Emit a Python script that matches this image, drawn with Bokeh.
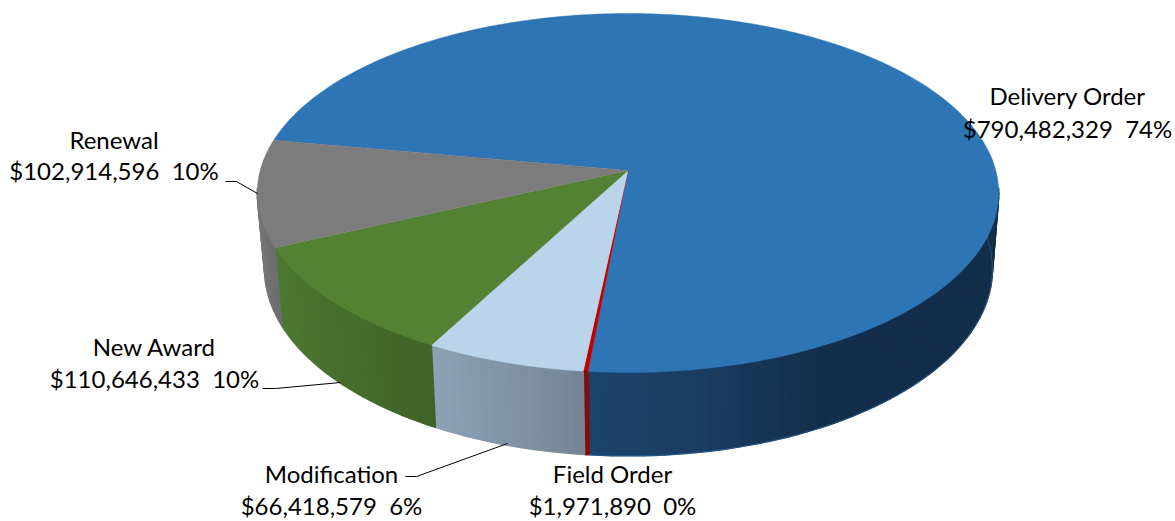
import numpy as np
from bokeh.plotting import figure
from bokeh.models import ColumnDataSource, Range1d
from bokeh.core.properties import value
from bokeh.embed import file_html
from bokeh.resources import INLINE

# ---------- data (clockwise from the Delivery Order edge) ----------
categories = ["Delivery Order", "Field Order", "Modification", "New Award", "Renewal"]
amounts = [790482329, 1971890, 66418579, 110646433, 102914596]

# ---------- style ----------
top_colors = ["#2e75b6", "#c00000", "#bad4eb", "#548235", "#7c7c7c"]
wall_stops = [
    [(585, "#1a446c"), (700, "#1b3d61"), (820, "#132e4a"), (1000, "#132e4a")],
    [(580, "#860c0c"), (590, "#860c0c")],
    [(436, "#8da1b5"), (585, "#748495")],
    [(275, "#4c7831"), (340, "#466e2b"), (436, "#3f6327")],
    [(255, "#777777"), (285, "#666666")],
]
label_centers = [(1067, 95, 128), (612, 473, 505), (331, 473, 505), (154, 346, 378), (113.5, 139, 170)]
leaders = [
    [],
    [],
    ([405, 416, 507], [476, 476, 443]),
    ([262, 275, 340], [388, 388, 382]),
    ([225, 236, 257], [181, 181, 193]),
]

START = np.deg2rad(-79.9)
K = 0.1253
TOP = (627.5, 170.0, 367.8, 176.7)      # cx, cy, rx, ry
BOT = (628.0, 245.0, 361.0, 184.0)


def project(theta, plane):
    cx, cy, rx, ry = plane
    u, v = np.sin(theta), -np.cos(theta)
    d = 1 - K * v
    return cx + rx * u / d, cy + ry * v / d


def hex_rgb(h):
    return np.array([int(h[i:i + 2], 16) for i in (1, 3, 5)], float)


def shade(x, stops):
    xs = [s[0] for s in stops]
    rgb = np.array([hex_rgb(s[1]) for s in stops])
    c = [np.interp(x, xs, rgb[:, i]) for i in range(3)]
    return "#%02x%02x%02x" % tuple(int(round(a)) for a in c)


total = sum(amounts)
fractions = np.array(amounts) / total
edges = START + 2 * np.pi * np.concatenate([[0], np.cumsum(fractions)])

p = figure(width=1175, height=521, x_range=Range1d(0, 1175), y_range=Range1d(521, 0),
           output_backend="svg", toolbar_location=None, min_border=0)
p.axis.visible = False
p.grid.visible = False
p.outline_line_color = None
p.background_fill_color = "#ffffff"

# outer wall, drawn as shaded strips (only the part facing the viewer)
wx, wy, wc = [], [], []
for i, stops in enumerate(wall_stops):
    n = max(2, int(np.ceil((edges[i + 1] - edges[i]) / np.deg2rad(1.5))))
    th = np.linspace(edges[i], edges[i + 1], n + 1)
    tx, ty = project(th, TOP)
    bx, by = project(th, BOT)
    for j in range(n):
        if -np.cos(0.5 * (th[j] + th[j + 1])) < K - 0.03:
            continue
        wx.append([tx[j], tx[j + 1], bx[j + 1], bx[j]])
        wy.append([ty[j], ty[j + 1], by[j + 1], by[j]])
        wc.append(shade(0.5 * (tx[j] + tx[j + 1]), stops))
p.patches("x", "y", source=ColumnDataSource(dict(x=wx, y=wy, c=wc)),
          fill_color="c", line_color="c", line_width=1.5)

# faint lighter rim at the foot of the blue wall
th = np.linspace(edges[0] + np.deg2rad(100), edges[1], 200)
bx, by = project(th, BOT)
p.line(bx, by, line_color="#2e75b6", line_width=1, line_alpha=0.55)

# top face
for i, c in enumerate(top_colors):
    th = np.linspace(edges[i], edges[i + 1], 400)
    x, y = project(th, TOP)
    p.patch(np.r_[TOP[0], x], np.r_[TOP[1], y], fill_color=c, line_color=c, line_width=0.4)

# leaders
for seg in leaders:
    if seg:
        p.line(seg[0], seg[1], line_color="#000000", line_width=1)

# labels
font = value("Lato")
for name, amt, frac, (cx, y1, y2) in zip(categories, amounts, fractions, label_centers):
    p.text([cx], [y1], text=[name], text_font=font, text_font_size="24px", text_color="#000000",
           text_align="center", text_baseline="middle")
    p.text([cx], [y2], text=[f"${amt:,}\u00a0 {round(frac * 100)}%"], text_font=font, text_font_size="24px",
           text_color="#000000", text_align="center", text_baseline="middle")

open("out.html", "w").write(file_html(p, INLINE))
